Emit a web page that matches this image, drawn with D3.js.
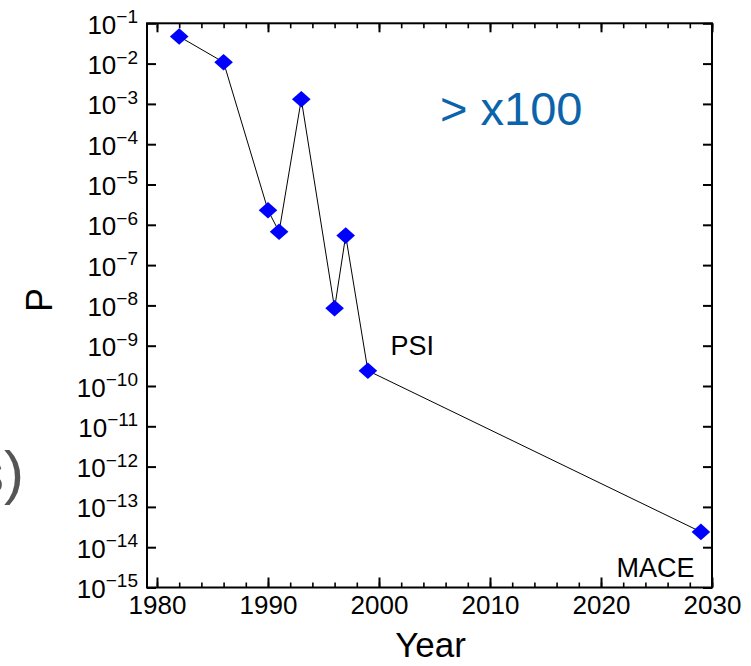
<!DOCTYPE html>
<html>
<head>
<meta charset="utf-8">
<script src="https://cdn.jsdelivr.net/npm/d3@7"></script>
<style>
  html, body { margin: 0; padding: 0; background: #fff; }
  svg { display: block; font-family: "Liberation Sans", Arial, Helvetica, sans-serif; }
</style>
</head>
<body>
<svg id="chart" width="751" height="666"></svg>
<script>
// ---- data ----
const years = [1982, 1986, 1990, 1991, 1993, 1996, 1997, 1999, 2029];
const pValues = [4.7e-2, 1.08e-2, 2.3e-6, 6.7e-7, 1.3e-3, 8.5e-9, 5.4e-7, 2.4e-10, 2.4e-14];
const xMajorTicks = [1980, 1990, 2000, 2010, 2020, 2030];
const xMinorTicks = d3.range(1980, 2031, 2);
const yExponents = d3.range(-15, 0);           // 10^-15 ... 10^-1
const annotations = ["PSI", "MACE", "> x100"];

const svg = d3.select("#chart");
const L = 147, R = 712, T = 23.3, B = 587.5;

const x = d3.scaleLinear().domain([1979.1, 2030]).range([L, R]);
const y = d3.scaleLog().domain([1e-15, 1e-1]).range([B, T]);

const yMajor = yExponents.map(e => Math.pow(10, e));
const yMinor = y.ticks().filter(v => yMajor.every(m => Math.abs(v / m - 1) > 1e-6));

function styleAxis(g, w) {
  g.select(".domain").remove();
  g.selectAll(".tick line").attr("stroke", "#000").attr("stroke-width", w);
}

// bottom axis
svg.append("g").attr("transform", `translate(0,${B})`)
  .call(d3.axisBottom(x).tickValues(xMinorTicks).tickSizeInner(-5).tickSizeOuter(0).tickFormat(""))
  .call(g => styleAxis(g, 1.6));
svg.append("g").attr("transform", `translate(0,${B})`)
  .call(d3.axisBottom(x).tickValues(xMajorTicks).tickSizeInner(-10).tickSizeOuter(0).tickPadding(10).tickFormat(d3.format("d")))
  .call(g => styleAxis(g, 2))
  .call(g => g.selectAll("text").attr("font-size", 26).attr("fill", "#000")
        .attr("font-family", "Liberation Sans, Arial, sans-serif").attr("dy", "0.72em").attr("y", 8));

// top axis (mirror)
svg.append("g").attr("transform", `translate(0,${T})`)
  .call(d3.axisTop(x).tickValues(xMinorTicks).tickSizeInner(-5).tickSizeOuter(0).tickFormat(""))
  .call(g => styleAxis(g, 1.6));
svg.append("g").attr("transform", `translate(0,${T})`)
  .call(d3.axisTop(x).tickValues(xMajorTicks).tickSizeInner(-9).tickSizeOuter(0).tickFormat(""))
  .call(g => styleAxis(g, 2));

// left axis
svg.append("g").attr("transform", `translate(${L},0)`)
  .call(d3.axisLeft(y).tickValues(yMinor).tickSizeInner(-5).tickSizeOuter(0).tickFormat(""))
  .call(g => styleAxis(g, 1.4));
svg.append("g").attr("transform", `translate(${L},0)`)
  .call(d3.axisLeft(y).tickValues(yMajor).tickSizeInner(-9).tickSizeOuter(0).tickPadding(9).tickFormat(""))
  .call(g => styleAxis(g, 2))
  .call(g => g.selectAll(".tick text")
    .attr("font-size", 26).attr("fill", "#000")
    .attr("font-family", "Liberation Sans, Arial, sans-serif")
    .attr("dy", 10)
    .each(function(d) {
      const t = d3.select(this);
      t.text("10");
      t.append("tspan").attr("font-size", 19).attr("dy", -10.6)
        .text("\u2212" + Math.round(-Math.log10(d)));
    }));

// right axis (mirror)
svg.append("g").attr("transform", `translate(${R},0)`)
  .call(d3.axisRight(y).tickValues(yMinor).tickSizeInner(-5).tickSizeOuter(0).tickFormat(""))
  .call(g => styleAxis(g, 1.4));
svg.append("g").attr("transform", `translate(${R},0)`)
  .call(d3.axisRight(y).tickValues(yMajor).tickSizeInner(-9).tickSizeOuter(0).tickFormat(""))
  .call(g => styleAxis(g, 2));

// frame
svg.append("rect").attr("x", L).attr("y", T).attr("width", R - L).attr("height", B - T)
  .attr("fill", "none").attr("stroke", "#000").attr("stroke-width", 2);

// data line
const pts = years.map((yr, i) => [yr, pValues[i]]);
svg.append("path").datum(pts)
  .attr("fill", "none").attr("stroke", "#000").attr("stroke-width", 1)
  .attr("d", d3.line().x(d => x(d[0])).y(d => y(d[1])));

// diamonds
svg.append("g").selectAll("path").data(pts).join("path")
  .attr("transform", d => `translate(${x(d[0])},${y(d[1])})`)
  .attr("d", "M0,-8.3L9.3,0L0,8.3L-9.3,0Z")
  .attr("fill", "#0000ff");

// annotations
svg.append("text").attr("x", 390.5).attr("y", 355).attr("font-size", 27).attr("fill", "#000").text(annotations[0]);
svg.append("text").attr("x", 616.5).attr("y", 577).attr("font-size", 27).attr("fill", "#000").text(annotations[1]);
svg.append("text").attr("x", 440).attr("y", 125).attr("font-size", 47).attr("fill", "#0a63ab").text(annotations[2]);

// axis titles
svg.append("text").attr("x", 430.5).attr("y", 657).attr("text-anchor", "middle")
  .attr("font-size", 35).attr("fill", "#000").text("Year");
svg.append("text").attr("transform", "translate(52,300) rotate(-90)").attr("text-anchor", "middle")
  .attr("font-size", 36).attr("fill", "#000").text("P");

// partial clipped label from neighbouring panel
svg.append("text").attr("x", 24).attr("y", 493).attr("text-anchor", "end")
  .attr("font-size", 60).attr("fill", "#555").text("s)");
</script>
</body>
</html>
